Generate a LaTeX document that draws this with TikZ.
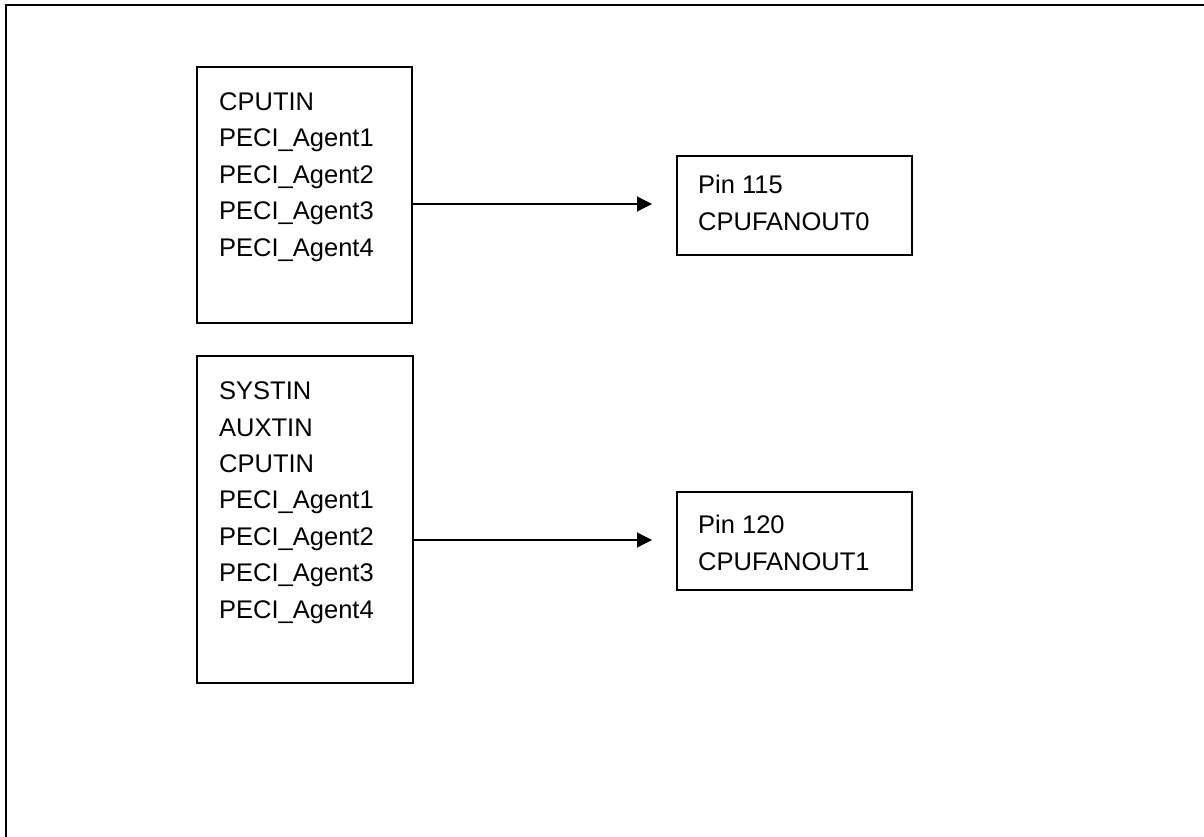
\documentclass[tikz,border=0pt]{standalone}
\usepackage{fontspec}
\setmainfont{Liberation Sans}
\usetikzlibrary{arrows.meta}
\begin{document}
\begin{tikzpicture}[x=1pt,y=-1pt,
  boxnode/.style={draw,line width=1.3pt,inner sep=0pt,minimum width=#1},
  labeltext/.style={anchor=base west,inner sep=0pt,align=left,font=\fontsize{25.5}{36.4}\selectfont},
  conn/.style={line width=1.1pt,-{Triangle[length=15pt,width=15pt]}},
  frame/.style={line width=2pt}]
\useasboundingbox (0,0) rectangle (1204,837);
% outer frame
\coordinate (fr1) at (1204,5);
\coordinate (fr2) at (6,5);
\coordinate (fr3) at (6,837);
\draw[frame] (fr1) -- (fr2) -- (fr3);
% boxes
\node[boxnode=215pt,minimum height=256pt] (inA) at (304.5,195) {};
\node[boxnode=235pt,minimum height=99pt] (outA) at (794.5,205.5) {};
\node[boxnode=216pt,minimum height=327pt] (inB) at (305,519.5) {};
\node[boxnode=235pt,minimum height=98pt] (outB) at (794.5,541) {};
% texts (base anchor = baseline of the last line)
\node[labeltext] (tA) at (219,256) {CPUTIN\\PECI\_Agent1\\PECI\_Agent2\\PECI\_Agent3\\PECI\_Agent4};
\node[labeltext] (tOA) at (698,230) {Pin 115\\CPUFANOUT0};
\node[labeltext] (tB) at (219,618) {SYSTIN\\AUXTIN\\CPUTIN\\PECI\_Agent1\\PECI\_Agent2\\PECI\_Agent3\\PECI\_Agent4};
\node[labeltext] (tOB) at (698,570) {Pin 120\\CPUFANOUT1};
% connectors
\coordinate (endA) at (652,204);
\coordinate (endB) at (652,540);
\draw[conn] (inA.east |- endA) -- (endA);
\draw[conn] (inB.east |- endB) -- (endB);
\end{tikzpicture}
\end{document}
